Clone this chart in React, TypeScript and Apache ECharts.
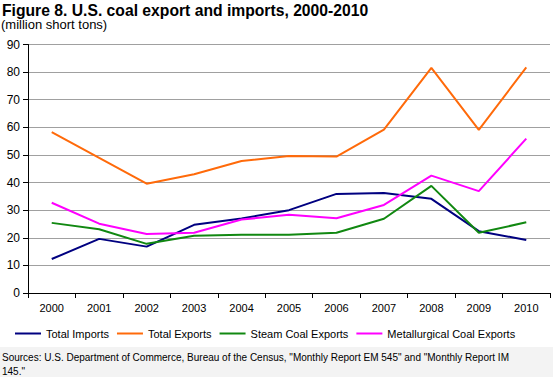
import React, { useEffect, useRef } from "react";
import * as echarts from "echarts";

const years = ["2000", "2001", "2002", "2003", "2004", "2005", "2006", "2007", "2008", "2009", "2010"];
const totalImports = [12.3, 19.6, 16.8, 24.7, 27.0, 30.0, 35.9, 36.2, 34.1, 22.4, 19.2];
const totalExports = [58.3, 48.9, 39.6, 43.0, 47.8, 49.6, 49.4, 59.2, 81.5, 59.1, 81.7];
const steamExports = [25.4, 23.1, 17.8, 20.7, 21.1, 21.1, 21.8, 26.9, 38.8, 21.8, 25.6];
const metExports = [32.7, 25.1, 21.4, 21.8, 26.6, 28.3, 27.1, 31.9, 42.5, 36.9, 55.9];
const title = "Figure 8. U.S. coal export and imports, 2000-2010";
const subtitle = "(million short tons)";
const sourceLines = [
  'Sources: U.S. Department of Commerce, Bureau of the Census, "Monthly Report EM 545" and "Monthly Report IM',
  '145."',
];

export default function App() {
  const ref = useRef<HTMLDivElement>(null);
  useEffect(() => {
    const chart = echarts.init(ref.current!, undefined, { renderer: "svg" });
    const font = "Arial, 'Liberation Sans', sans-serif";
    const mk = (name: string, data: number[], color: string) => ({
      name,
      type: "line",
      data,
      symbol: "none",
      lineStyle: { color, width: 2 },
      itemStyle: { color },
    });
    chart.setOption({
      animation: false,
      backgroundColor: "#ffffff",
      textStyle: { fontFamily: font },
      graphic: [
        { type: "rect", left: 0, top: 347, shape: { width: 553, height: 30 }, style: { fill: "#f3f3f3" }, z: -1 },
        { type: "text", left: 2, top: 2, style: { text: title, font: `bold 15.7px ${font}`, fill: "#000" } },
        { type: "text", left: 1, top: 18, style: { text: subtitle, font: `13px ${font}`, fill: "#000" } },
        { type: "text", left: 2, top: 350, style: { text: sourceLines.join("\n"), font: `10px ${font}`, fill: "#000", lineHeight: 14 } },
      ],
      legend: {
        left: 10,
        top: 323,
        icon: "rect",
        itemWidth: 26,
        itemHeight: 2,
        itemGap: 8,
        textStyle: { fontSize: 11, color: "#000", fontFamily: font },
        data: ["Total Imports", "Total Exports", "Steam Coal Exports", "Metallurgical Coal Exports"],
      },
      grid: { left: 28, right: 3, top: 44.5, bottom: 84 },
      xAxis: {
        type: "category",
        data: years,
        boundaryGap: true,
        axisLine: { lineStyle: { color: "#000", width: 1 } },
        axisTick: { show: true, length: 5, lineStyle: { color: "#000" } },
        axisLabel: { color: "#000", fontSize: 11, margin: 9, fontFamily: font },
        splitLine: { show: false },
      },
      yAxis: {
        type: "value",
        min: 0,
        max: 90,
        interval: 10,
        axisLine: { show: true, lineStyle: { color: "#000", width: 1 } },
        axisTick: { show: true, length: 5, lineStyle: { color: "#000" } },
        axisLabel: { color: "#000", fontSize: 12, margin: 8, fontFamily: font },
        splitLine: { show: true, lineStyle: { color: "#a0a0a0", width: 1 } },
      },
      series: [
        mk("Total Imports", totalImports, "#000080"),
        mk("Total Exports", totalExports, "#ff6a0a"),
        mk("Steam Coal Exports", steamExports, "#118811"),
        mk("Metallurgical Coal Exports", metExports, "#ff00ff"),
      ],
    });
    return () => chart.dispose();
  }, []);
  return <div ref={ref} style={{ position: "fixed", left: 0, top: 0, width: 553, height: 377 }} />;
}
